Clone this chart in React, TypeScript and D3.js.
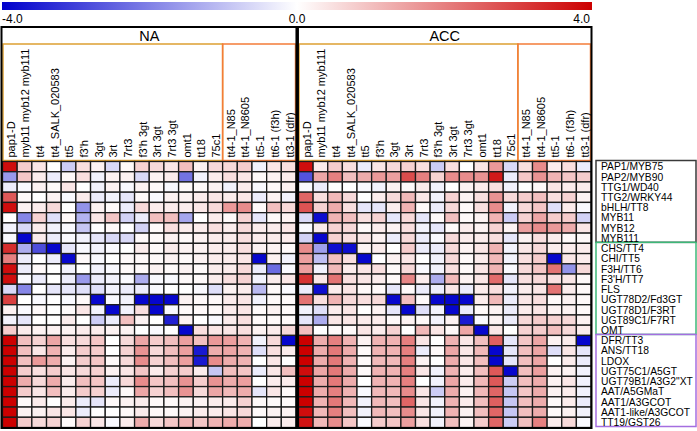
import * as d3 from 'd3';

// genotypes (columns) and genes (rows)
const genotypes = [
    'pap1-D', 'myb11 myb12 myb111', 'tt4', 'tt4_SALK_020583', 'tt5', "f3'h", '3gt', '3rt', '7rt3',
    "f3'h 3gt", '3rt 3gt', '7rt3 3gt', 'omt1', 'tt18', '75c1',
    'tt4-1_N85', 'tt4-1_N8605', 'tt5-1', 'tt6-1 (f3h)', 'tt3-1 (dfr)',
];

const genes = [
    'PAP1/MYB75', 'PAP2/MYB90', 'TTG1/WD40', 'TTG2/WRKY44', 'bHLH/TT8', 'MYB11', 'MYB12', 'MYB111',
    'CHS/TT4', 'CHI/TT5', 'F3H/TT6', "F3'H/TT7", 'FLS', 'UGT78D2/Fd3GT', 'UGT78D1/F3RT',
    'UGT89C1/F7RT', 'OMT',
    'DFR/TT3', 'ANS/TT18', 'LDOX', 'UGT75C1/A5GT', 'UGT79B1/A3G2"XT', 'AAT/A5GMaT', 'AAT1/A3GCOT',
    'AAT1-like/A3GCOT', 'TT19/GST26',
];

// gene groups: [first row, last row + 1]
const geneGroups: [number, number, string][] = [
    [0, 8, '#3a3a3a'],
    [8, 17, '#3cb878'],
    [17, 26, '#a46ee0'],
];

// genotype groups: the last five are the classic tt lines
const genotypeSplit = 15;

const legendTicks = [-4, 0, 4];

// log2 fold change, NA accession
const naValues = [
    [3.8, 0.8, 0.4, 0, -0.8, 0.5, 0.2, -0.6, 0.1, 0.7, 0.6, 0.4, 1.0, 0.2, 0.6, 0.6, 0.8, -0.2, 0.4, 0.5],
    [-1.6, 0.9, 0.3, -0.3, 0.1, 0.5, -0.2, 0.2, 0.2, -0.6, 0.2, 0.3, -2.2, -0.2, 0.3, 0.5, 0.4, 0.1, 0.2, 0.3],
    [-0.3, -0.1, 0.2, 0.1, 0.4, 0, -0.2, 0.2, -0.1, 0.2, 0.1, -0.1, 0.1, 0.1, 0.2, -0.2, 0.3, -0.1, 0.1, 0.2],
    [2.6, 0.1, 0, 0.2, -0.1, 0.3, -0.3, -0.2, -0.4, 0.1, -0.1, 0.2, 0.2, 0.3, 0.4, 0.3, 0.4, -0.3, 0.2, -0.2],
    [3.8, 0.2, 0.3, 0.6, 0, -1.7, 0.2, 0.1, -0.3, 0.6, 0.3, 0.3, 0.3, 0.4, 0.6, 1.6, 1.8, 0.1, 1.0, 0.6],
    [0, -1.9, 0.7, -0.5, 0.1, -1.2, 0.4, 0.9, -0.7, -0.3, 1.0, 1.0, -1.4, 0, 0.3, 0.1, 0.7, -0.4, 0.1, 0.2],
    [-0.2, -0.6, 0.3, -0.2, -0.1, -0.9, 0, 0.1, 0, -0.7, 0.1, 0.5, 0.3, 0.3, 0.5, 0.3, 0.6, 0.3, 0.3, 0.4],
    [-0.1, -3.9, 0.3, -0.3, -0.1, -0.2, -0.4, -0.6, -0.6, 0.1, 0.1, 0.2, 0.1, 0.2, 0.3, 0.3, 0.5, 0.3, 0.3, 0.3],
    [3.3, -1.3, -2.8, -3.9, -0.4, -0.1, -0.2, -0.1, 0, 0.3, 0.1, 0.3, 0.2, 0.2, 0.3, 0.3, 0.5, 0.2, 0.2, 0.1],
    [2.0, -0.3, 0, -0.3, -3.9, 0.1, -0.1, 0, 0.1, 0.1, 0.1, 0.2, 0.1, 0.2, 0.3, 0.3, 0.4, -3.9, 0.2, -0.2],
    [3.8, -0.3, 0.1, 0, -0.2, 0, -0.2, -0.1, 0.1, 0.1, 0.2, 0.1, 0.2, 0.1, 0.3, 0.3, 0.6, -0.3, -2.3, -0.1],
    [3.8, -0.1, -0.3, 0, -0.3, -1.6, -0.3, -0.2, -0.1, -1.3, -0.1, -0.1, 0.1, 0.1, 0.3, 0.5, 0.7, -0.2, 0.3, 0.4],
    [-0.6, -1.9, 0, -0.4, -0.4, -0.5, -0.5, -0.2, -0.3, -0.3, -0.1, 0, 0, -0.1, -0.5, 0.2, 0.3, -1.1, 0.1, -0.1],
    [3.0, 0, -0.1, 0, -0.1, 0.1, -3.9, -0.1, -0.2, -3.9, -3.9, -3.9, 0.2, 0.1, 0.1, 0.3, 0.4, -0.2, 0.1, 0.1],
    [0.2, -0.1, 0.1, 0, 0.1, 0.4, -0.2, -3.9, -0.2, 0.5, -3.9, -0.1, 0.1, 0.1, 0.1, 0.3, 0.4, 0.1, 0.2, 0.1],
    [-0.2, -0.4, 0, 0, 0.3, 0, -0.8, -0.3, 1.0, 0.2, 0, -3.5, 0.2, 0, -0.1, 0.3, 0.5, 0.1, 0.1, 0.1],
    [0.8, 0.3, 0.2, 0.2, 0.2, 0.3, 0.3, 0.2, 0.2, 0, -0.1, 0, -3.9, 0.5, 0.4, 0.4, 0.5, 0.2, 0.3, 0.6],
    [4.0, 1.0, 0.7, 1.4, 0.5, 0.6, 0.9, 0, 0.6, 1.4, 0.8, 1.0, 1.5, 1.0, 1.6, 1.5, 1.2, -0.2, 0.6, -3.9],
    [4.0, 1.0, 0.4, 1.2, 0.3, 0.8, 0.8, 0, 0.7, 1.7, 0.6, 1.0, 1.5, -3.6, 1.3, 1.4, 1.2, -0.5, 0.5, 0.3],
    [4.0, 1.0, 1.6, 1.3, 0.2, 0.8, 0.9, 0.1, 0.6, 1.8, 0.7, 1.0, 1.5, -3.6, 1.8, 1.3, 1.2, 0, 0.4, 0],
    [4.0, 0.8, 0.5, 0.8, 0.4, 0.6, 0.7, 0.2, 0.4, 0.9, 0.3, 0.7, 0.8, 0.3, -0.9, 1.0, 0.9, -0.3, 0.4, 1.0],
    [4.0, 1.3, 0.6, 1.3, 0.3, 1.0, 0.9, -0.3, 0.6, 1.8, 0.9, 1.0, 1.7, 0.8, 1.7, 1.3, 1.5, 0, 0.3, 0.3],
    [4.0, 0.8, 0.4, 1.0, 0.3, 0.8, 0.7, -0.3, 0.1, 1.4, 0.7, 1.0, 1.7, 0.6, 1.4, 1.1, 1.3, -0.4, 0.4, 0.1],
    [4.0, 0.1, 0.3, 0, 0.3, -0.3, -0.4, 0.1, 0.2, 0.3, 0.1, 0.1, 0.2, 0.2, 0.3, 0.3, 0.7, 0.1, 0.1, 0.1],
    [4.0, 0.2, 0.2, 0.4, 0.4, -0.3, 0, 0, 0.1, 0.3, 0.1, 0.1, 0.2, 0.3, 0.3, 0.4, 0.6, 0.1, 0.2, 0.2],
    [4.0, 0.8, 0.6, 0.7, 0.1, 0.7, 0.4, -0.1, 0.3, 1.3, 0.6, 0.9, 1.2, 0.9, 1.2, 1.3, 1.3, 0, 0.3, 0.3],
];

// log2 fold change, ACC treatment
const accValues = [
    [3.8, 0.3, 0.8, 0.5, -0.3, 0.4, 0.6, 0.7, 0.5, -0.8, 0.5, 0, 0.4, 1.6, -0.6, 0.5, 1.8, 0.3, 0.5, -0.3],
    [-2.7, 1.4, 2.0, 1.0, 1.3, 1.6, 1.5, 2.8, 2.0, 0.7, 1.8, 1.8, 1.7, 3.6, -0.3, 0.9, 1.7, 1.2, 0.9, 0.8],
    [-0.1, -0.3, 0, 0, -0.1, -0.2, 0.2, 0.1, 0.3, -0.2, 0, 0.2, 0.3, 0.5, -0.2, 0, 0.1, 0.4, 0.3, 0.3],
    [2.4, 0.5, 1.1, 0.6, 0, 0.3, 0.6, 1.1, 0.4, -0.2, 0.7, 0.2, 0.5, 1.7, 0.6, 0.8, 1.0, 0.5, 0.7, 0.2],
    [2.7, 0.7, 1.3, 0.5, -0.4, -0.4, 0.3, 1.2, 0.1, -0.3, 0.6, 0.1, 0.5, 1.8, -0.2, 0.6, 0.9, -0.5, 0.3, -0.1],
    [-0.6, -3.8, 1.2, 1.0, 0.5, 0.7, -0.4, 0.6, -0.4, 0.1, 1.0, 0.1, 0.2, 1.2, -0.8, 0.7, 1.4, 0.8, 0.8, -0.7],
    [-0.1, 0.3, 0.7, 0.6, 0.1, 0.3, 0.2, 0.5, -0.2, -0.4, 0.1, 0.3, 0.2, 0.7, 0.2, 1.5, 1.8, 1.6, 1.3, 0.4],
    [-0.7, -3.9, 0.7, 0.5, 0.4, 0.2, -0.3, 0.6, -0.3, -0.1, 0.6, 0.3, 0.3, 0.5, -0.4, 0.2, 0.5, 0.3, 0.1, 0.1],
    [1.8, -1.5, -3.8, -3.8, 0.2, 0.3, 0, 0.8, -0.3, -0.3, 0.6, 0.2, 0.4, 1.2, -0.2, 0.4, 0.6, 0.3, 0.3, 0.3],
    [1.5, -1.0, 1.0, 0.5, -3.9, 0, 0.2, 0.4, 0, -0.2, 0.6, 0.1, 0.3, 1.1, -0.2, 0.5, 0.8, -3.9, 0.4, 0.3],
    [1.5, -0.2, 1.1, 0.3, 0.4, 0.5, 0.1, 0.6, -0.1, -0.2, 0.5, 0.1, 0.4, 1.2, -0.1, 0.6, 0.9, 2.2, -1.7, 0.6],
    [3.2, 0.4, 2.2, 0.5, 0.4, 0.3, 0.1, 1.9, 0.3, -1.3, 1.1, 0.2, 0.4, 2.3, -0.4, 0.5, 0.6, 0.5, 0.4, 0.1],
    [-0.3, -3.8, 0.3, 0.4, 0.1, 0.1, -0.4, 0.1, -0.3, -0.3, 0.4, -0.3, 0.3, 0.5, -0.2, 0.3, 0.4, 2.2, 0.3, 0.1],
    [2.2, 0.5, 1.2, 0.6, 0.5, 0.6, -3.9, 1.0, 0.1, -3.9, -3.9, -3.9, 0.3, 1.1, -0.3, 0.4, 0.5, 0.1, 0.2, 0.1],
    [-0.2, -0.5, 0.3, 0.4, 0, 0.2, -0.4, -3.9, -0.5, -0.2, -3.9, -0.3, 0.1, 0.2, -0.3, 0.3, 0.4, 0.2, 0.2, 0.1],
    [-0.4, -1.3, 0.4, 0.4, 0.3, 0.3, 0.1, 0.2, 0.1, -0.2, 0.2, -3.6, -0.1, 0.2, -0.3, 0.6, 0.8, 0.7, 0.6, 0.2],
    [1.0, 0, 0.1, 0.1, 0.4, 0.3, 0.7, 0, 1.1, 0.4, 0.1, 1.4, -3.9, 0.4, 0, 0.7, 0.8, 1.0, 0.6, 0.3],
    [4.0, 1.3, 2.0, 1.2, 0.2, 1.2, 1.2, 2.0, 0.4, 0, 1.2, 0.4, 1.0, 2.5, -0.4, 0.9, 1.4, 0.2, 0.3, -3.9],
    [4.0, 1.3, 2.1, 1.3, 0.1, 1.2, 1.2, 2.0, -0.3, 0.1, 1.4, 0.4, 1.1, -3.9, -0.4, 1.0, 1.4, -0.5, 0.4, -0.4],
    [4.0, 1.3, 2.1, 1.2, 0.1, 1.1, 1.1, 2.0, 0.2, 0, 1.3, 0.4, 1.0, -3.9, -0.4, 1.0, 1.4, 0, 0.3, -0.3],
    [3.8, 1.4, 2.1, 1.3, 0.1, 1.2, 1.2, 2.0, 0.4, -0.2, 1.2, 0.3, 1.0, 2.6, -3.9, 1.0, 1.5, 0.2, 0.2, -0.2],
    [4.0, 1.3, 2.1, 1.3, 0, 1.2, 1.2, 2.0, 0, -0.2, 1.4, 0.3, 1.1, 2.6, -0.8, 1.0, 1.3, 0.2, 0.4, -0.2],
    [4.0, 1.3, 2.0, 1.2, -0.1, 1.1, 1.1, 1.8, 0.4, -0.8, 1.3, 0.2, 1.1, 2.4, -0.9, 0.9, 1.3, 0.2, 0.3, -0.2],
    [4.0, 1.2, 2.1, 1.1, -0.2, 1.1, 1.0, 2.4, 0.4, -0.2, 1.2, 0.3, 1.0, 2.5, -0.9, 1.0, 1.3, 0.1, 0.3, -0.3],
    [3.8, 1.1, 2.0, 1.0, -0.2, 1.1, 1.0, 1.8, 0.4, -0.2, 1.2, 0.2, 1.0, 2.4, -0.9, 1.0, 1.3, 0.1, 0.2, -0.2],
    [3.7, 1.1, 1.8, 0.9, -0.1, 0.8, 0.9, 1.5, 0.5, -0.2, 1.0, 0.2, 0.8, 2.4, -0.8, 1.0, 2.0, 0.3, 0.6, -0.1],
];

const panels = [
    { name: 'NA', values: naValues, x0: 2.5, x1: 296 },
    { name: 'ACC', values: accValues, x0: 298.5, x1: 591 },
];

const width = 697;
const height = 431;
const font = '"Liberation Sans", Arial, sans-serif';

const colour = d3
    .scaleLinear<string>()
    .domain([-4, 0, 4])
    .range(['#0000cc', '#ffffff', '#cc0000'])
    .clamp(true);

const frameTop = 27;
const headerBottom = 44;
const heatTop = 161.5;
const heatBottom = 427.5;
const boxX0 = 596;
const boxX1 = 696;

const yScale = d3.scaleBand<string>().domain(genes).range([heatTop, heatBottom]);
const legendX = d3.scaleLinear().domain([-4, 4]).range([2, 592]);

function Panel(props: { name: string; values: number[][]; x0: number; x1: number }) {
    const { name, values, x0, x1 } = props;
    const xScale = d3.scaleBand<string>().domain(genotypes).range([x0, x1]);
    const split = xScale(genotypes[genotypeSplit]) as number;
    return (
        <g>
            <text
                x={(x0 + x1) / 2}
                y={(frameTop + headerBottom) / 2}
                dy="0.36em"
                textAnchor="middle"
                fontSize={14.5}
            >
                {name}
            </text>
            <rect
                x={x0 + 0.5}
                y={headerBottom}
                width={split - x0 - 0.5}
                height={heatTop - headerBottom - 1}
                fill="none"
                stroke="#dda032"
                strokeWidth={1.5}
            />
            <rect
                x={split}
                y={headerBottom}
                width={x1 - split - 0.5}
                height={heatTop - headerBottom - 1}
                fill="none"
                stroke="#f47c38"
                strokeWidth={1.5}
            />
            {genotypes.map((g) => {
                const cx = (xScale(g) as number) + xScale.bandwidth() / 2 + 1;
                return (
                    <text
                        key={g}
                        transform={`translate(${cx}, ${heatTop - 4}) rotate(-90)`}
                        dy="0.35em"
                        fontSize={11}
                    >
                        {g}
                    </text>
                );
            })}
            {values.map((row, i) =>
                row.map((v, j) => (
                    <rect
                        key={`${i}-${j}`}
                        x={xScale(genotypes[j])}
                        y={yScale(genes[i])}
                        width={xScale.bandwidth()}
                        height={yScale.bandwidth()}
                        fill={colour(v)}
                        stroke="#1c1c1c"
                        strokeWidth={1.3}
                    />
                ))
            )}
        </g>
    );
}

export default function App() {
    return (
        <svg
            width={width}
            height={height}
            viewBox={`0 0 ${width} ${height}`}
            style={{ position: 'absolute', left: 0, top: 0, background: '#fff' }}
            fontFamily={font}
        >
            <defs>
                <linearGradient id="legendGrad" x1="0" x2="1" y1="0" y2="0">
                    {[-4, -2, 0, 2, 4].map((v) => (
                        <stop key={v} offset={(v + 4) / 8} stopColor={colour(v)} />
                    ))}
                </linearGradient>
            </defs>
            <rect x={legendX(-4)} y={2} width={legendX(4) - legendX(-4)} height={8} fill="url(#legendGrad)" />
            {legendTicks.map((t, i) => (
                <text
                    key={t}
                    x={legendX(t) + (i === 0 ? 0 : i === legendTicks.length - 1 ? -2 : 0)}
                    y={23}
                    fontSize={12}
                    textAnchor={i === 0 ? 'start' : i === legendTicks.length - 1 ? 'end' : 'middle'}
                >
                    {t.toFixed(1)}
                </text>
            ))}

            {panels.map((p) => (
                <Panel key={p.name} {...p} />
            ))}

            <rect
                x={1.5}
                y={frameTop}
                width={590}
                height={heatBottom - frameTop + 0.5}
                fill="none"
                stroke="#000"
                strokeWidth={2}
            />
            <line x1={297.2} x2={297.2} y1={frameTop} y2={heatBottom + 1} stroke="#000" strokeWidth={3.5} />

            {geneGroups.map(([a, b, c]) => (
                <rect
                    key={a}
                    x={boxX0}
                    y={(yScale(genes[a]) as number) - 1}
                    width={boxX1 - boxX0}
                    height={(b < genes.length ? (yScale(genes[b]) as number) : heatBottom) - (yScale(genes[a]) as number)}
                    fill="none"
                    stroke={c}
                    strokeWidth={1.5}
                />
            ))}
            {genes.map((g) => (
                <text
                    key={g}
                    x={boxX0 + 5}
                    y={(yScale(g) as number) + yScale.bandwidth() / 2}
                    dy="0.36em"
                    fontSize={10.3}
                >
                    {g}
                </text>
            ))}
        </svg>
    );
}
